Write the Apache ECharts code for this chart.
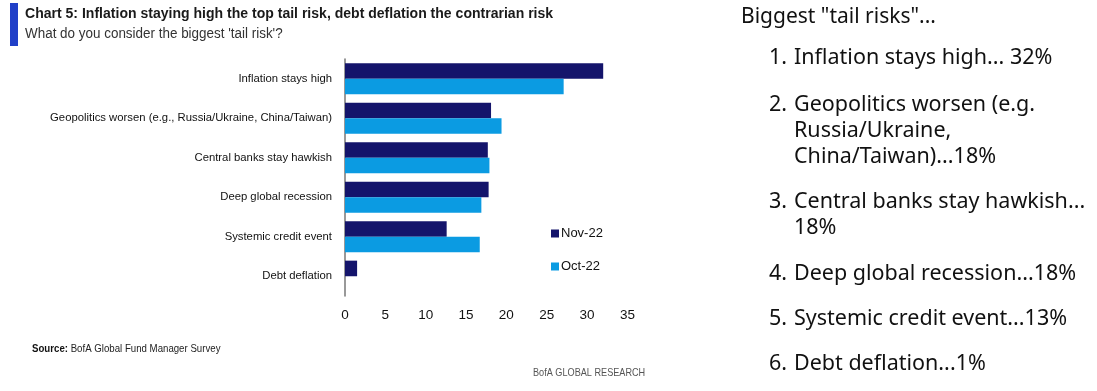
<!DOCTYPE html>
<html>
<head>
<meta charset="utf-8">
<script src="https://cdn.jsdelivr.net/npm/echarts@6/dist/echarts.min.js"></script>
<style>
html,body{margin:0;padding:0;background:#fff;}
#c{width:1097px;height:391px;}
</style>
</head>
<body>
<div id="c"></div>
<script>
const categories = ["Inflation stays high", "Geopolitics worsen (e.g., Russia/Ukraine, China/Taiwan)", "Central banks stay hawkish", "Deep global recession", "Systemic credit event", "Debt deflation"];
const nov22 = [32.0, 18.1, 17.7, 17.8, 12.6, 1.5];
const oct22 = [27.1, 19.4, 17.9, 16.9, 16.7, 0];
const seriesNames = ["Nov-22", "Oct-22"];
const xTicks = [0, 5, 10, 15, 20, 25, 30, 35];
const titleText = "Chart 5: Inflation staying high the top tail risk, debt deflation the contrarian risk";
const subtitleText = "What do you consider the biggest 'tail risk'?";
const sideHeader = 'Biggest "tail risks"...';
const sideLines = [
  ["1. ", "Inflation stays high... 32%"],
  ["2. ", "Geopolitics worsen (e.g."],
  ["", "Russia/Ukraine,"],
  ["", "China/Taiwan)...18%"],
  ["3. ", "Central banks stay hawkish..."],
  ["", "18%"],
  ["4. ", "Deep global recession...18%"],
  ["5. ", "Systemic credit event...13%"],
  ["6. ", "Debt deflation...1%"]
];
const sideTops = [46.5, 93.5, 119.5, 145.5, 190.5, 216.5, 262.5, 307.5, 352.5];

const chart = echarts.init(document.getElementById('c'));
const base = '"Liberation Sans", Arial, sans-serif';
const side = '"Noto Sans", sans-serif';

const graphics = [
  {type:'rect', shape:{x:10, y:3, width:8, height:43}, style:{fill:'#2140c8'}},
  {type:'text', x:25, y:6, scaleX:0.936, style:{text:titleText, textVerticalAlign:'top', font:'bold 15px ' + base, fill:'#1a1a1a'}},
  {type:'text', x:25, y:27, scaleX:0.96, style:{text:subtitleText, textVerticalAlign:'top', font:'14px ' + base, fill:'#333'}},
  {type:'text', x:32, y:349, scaleX:0.92, style:{text:'{b|Source:} BofA Global Fund Manager Survey', textVerticalAlign:'middle', rich:{b:{font:'bold 10.5px ' + base, fill:'#111'}}, font:'10.5px ' + base, fill:'#222'}},
  {type:'text', x:533, y:373, scaleX:0.87, style:{text:'BofA GLOBAL RESEARCH', textVerticalAlign:'middle', font:'10.5px ' + base, fill:'#555'}},
  {type:'text', x:741, y:6.5, style:{text:sideHeader, textVerticalAlign:'top', font:'21px ' + side, fill:'#111'}}
];
sideLines.forEach((ln, i) => {
  if (ln[0]) graphics.push({type:'text', x:769, y:sideTops[i], style:{text:ln[0], textVerticalAlign:'top', font:'21.5px ' + side, fill:'#111'}});
  graphics.push({type:'text', x:794, y:sideTops[i], style:{text:ln[1], textVerticalAlign:'top', font:'21.5px ' + side, fill:'#111'}});
});

chart.setOption({
  animation:false,
  backgroundColor:'#fff',
  grid:{left:345, top:59, width:282.4, height:237},
  legend:{
    orient:'vertical', left:546, top:222, itemWidth:8, itemHeight:8, itemGap:20,
    icon:'rect', data:seriesNames,
    textStyle:{fontFamily:base, fontSize:13, color:'#111', padding:[0,0,0,-3]}
  },
  xAxis:{
    type:'value', min:0, max:35, interval:5,
    axisLine:{show:false}, axisTick:{show:false}, splitLine:{show:false},
    axisLabel:{margin:12, fontFamily:base, fontSize:13.5, color:'#111',
      formatter:(v)=> xTicks.includes(v) ? String(v) : ''}
  },
  yAxis:{
    type:'category', inverse:true, data:categories,
    axisLine:{show:true, lineStyle:{color:'#777', width:1.5}},
    axisTick:{show:false},
    axisLabel:{margin:13, fontFamily:base, fontSize:11.3, color:'#111'}
  },
  series:[
    {name:seriesNames[0], type:'bar', data:nov22, barWidth:15.6, barGap:'0%', itemStyle:{color:'#14146b'}},
    {name:seriesNames[1], type:'bar', data:oct22, barWidth:15.6, barGap:'0%', itemStyle:{color:'#0b9be2'}}
  ],
  graphic:graphics
});
</script>
</body>
</html>
